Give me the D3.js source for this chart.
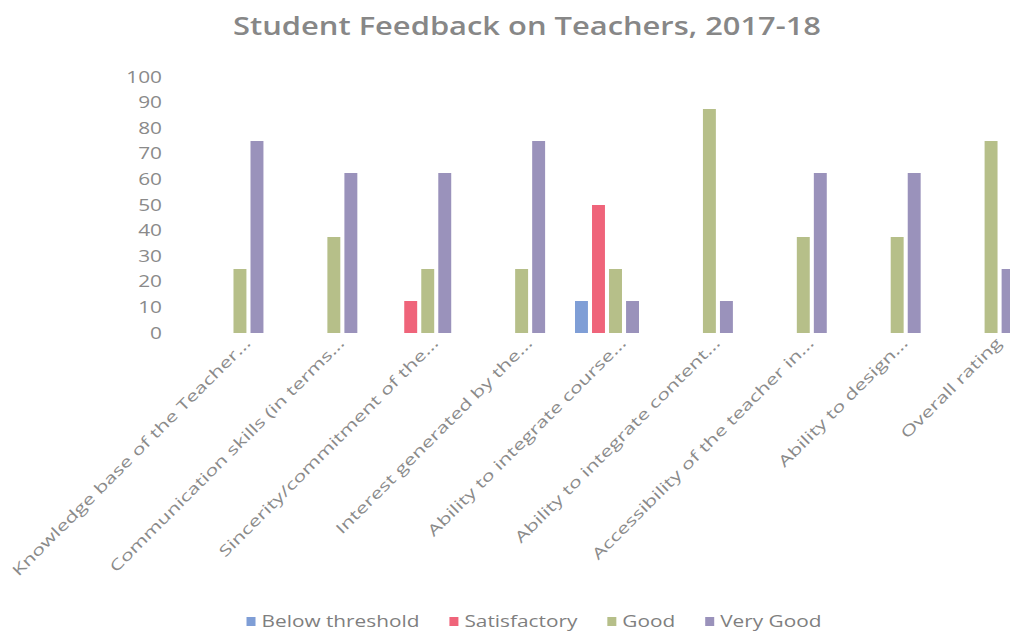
<!DOCTYPE html>
<html>
<head>
<meta charset="utf-8">
<script src="https://cdn.jsdelivr.net/npm/d3@7"></script>
<style>
  html, body { margin: 0; padding: 0; background: #ffffff; }
  svg { display: block; }
  text { font-family: "Open Sans", "DejaVu Sans", sans-serif; }
</style>
</head>
<body>
<svg id="chart" width="1010" height="636"></svg>
<script>
const categories = [
  "Knowledge base of the Teacher...",
  "Communication skills (in terms...",
  "Sincerity/commitment of the...",
  "Interest generated by the...",
  "Ability to integrate course...",
  "Ability to integrate content...",
  "Accessibility of the teacher in...",
  "Ability to design...",
  "Overall rating"
];
const seriesNames = ["Below threshold", "Satisfactory", "Good", "Very Good"];
const belowThreshold = [0, 0, 0, 0, 12.5, 0, 0, 0, 0];
const satisfactory   = [0, 0, 12.5, 0, 50, 0, 0, 0, 0];
const good           = [25, 37.5, 25, 25, 25, 87.5, 37.5, 37.5, 75];
const veryGood       = [75, 62.5, 62.5, 75, 12.5, 12.5, 62.5, 62.5, 25];
const yTicks = [0, 10, 20, 30, 40, 50, 60, 70, 80, 90, 100];
const titleText = "Student Feedback on Teachers, 2017-18";

const seriesValues = [belowThreshold, satisfactory, good, veryGood];
const colors = ["#7f9ed6", "#ef647a", "#b6bf89", "#9a92bb"];

const svg = d3.select("#chart");

const x0 = d3.scaleBand().domain(categories).range([184.5, 1029.5]).padding(0);
const x1 = d3.scaleBand().domain(seriesNames).range([-32, 32]).paddingInner(0.24).paddingOuter(0);
const y = d3.scaleLinear().domain([0, 100]).range([333, 77]);
const color = d3.scaleOrdinal().domain(seriesNames).range(colors);

const rows = categories.map((c, i) => ({
  cat: c,
  vals: seriesNames.map((s, k) => ({ s, v: seriesValues[k][i] }))
}));

function stretch(sel, k) {
  sel.each(function() {
    const n = this.getComputedTextLength();
    d3.select(this).attr("textLength", n * k).attr("lengthAdjust", "spacingAndGlyphs");
  });
}

// Title
svg.append("text")
  .attr("x", 527).attr("y", 35)
  .attr("text-anchor", "middle")
  .attr("font-size", 26)
  .attr("font-weight", 600)
  .attr("fill", "#878787")
  .text(titleText)
  .attr("textLength", 588).attr("lengthAdjust", "spacingAndGlyphs");

// Y axis (labels only)
const yAxis = d3.axisLeft(y).tickValues(yTicks).tickSize(0).tickPadding(0);
const gy = svg.append("g").attr("transform", "translate(162,0)").call(yAxis);
gy.select(".domain").remove();
gy.selectAll("text")
  .attr("font-size", 16)
  .attr("fill", "#8a8a8a")
  .attr("font-family", "Open Sans, sans-serif")
  .call(stretch, 1.3);

// Bars
const groups = svg.append("g").selectAll("g").data(rows).join("g")
  .attr("transform", d => `translate(${x0(d.cat) + x0.bandwidth() / 2},0)`);
groups.selectAll("rect").data(d => d.vals).join("rect")
  .attr("x", d => x1(d.s))
  .attr("width", x1.bandwidth())
  .attr("y", d => y(d.v))
  .attr("height", d => y(0) - y(d.v))
  .attr("fill", d => color(d.s));

// X axis labels (rotated)
const xAxis = d3.axisBottom(x0).tickSize(0).tickPadding(0);
const gx = svg.append("g").attr("transform", `translate(0,${y(0)})`).call(xAxis);
gx.select(".domain").remove();
gx.selectAll(".tick text")
  .attr("font-size", 15)
  .attr("fill", "#8a8a8a")
  .attr("font-family", "Open Sans, sans-serif")
  .attr("text-anchor", "end")
  .attr("dy", null)
  .attr("y", 0)
  .attr("transform", "translate(20,11) rotate(-45)")
  .call(stretch, 1.43);

// Legend
const legend = svg.append("g");
const items = legend.selectAll("g").data(seriesNames).join("g");
items.append("rect").attr("width", 9).attr("height", 9).attr("y", -10).attr("fill", d => color(d));
items.append("text")
  .attr("x", 15).attr("y", 0)
  .attr("font-size", 16)
  .attr("fill", "#7f7f7f")
  .text(d => d)
  .call(stretch, 1.3);
const widths = [];
items.each(function() {
  const t = d3.select(this).select("text").node();
  widths.push(15 + +t.getAttribute("textLength"));
});
const gap = 30;
const total = d3.sum(widths) + gap * (widths.length - 1);
let start = 534 - total / 2;
items.attr("transform", (d, i) => {
  const tx = start;
  start += widths[i] + gap;
  return `translate(${tx},627)`;
});
</script>
</body>
</html>
